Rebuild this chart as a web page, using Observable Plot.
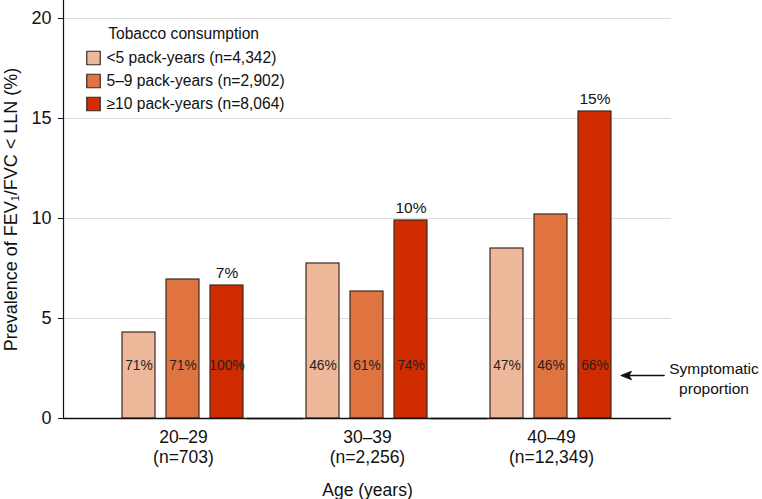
<!DOCTYPE html>
<html>
<head>
<meta charset="utf-8">
<script src="https://cdn.jsdelivr.net/npm/d3@7"></script>
<script src="https://cdn.jsdelivr.net/npm/@observablehq/plot@0.6"></script>
<style>
  body { margin: 0; background: #fff; }
  #chart svg { display: block; }
</style>
</head>
<body>
<div id="chart"></div>
<script>
// ---- data ----
const ageGroups = ["20–29", "30–39", "40–49"];
const ageGroupN = ["703", "2,256", "12,349"];
const tobacco = ["<5 pack-years", "5–9 pack-years", "≥10 pack-years"];
const tobaccoN = ["4,342", "2,902", "8,064"];
// prevalence of FEV1/FVC < LLN (%), by age group
const prevLow = [4.3, 7.75, 8.5];
const prevMid = [6.95, 6.35, 10.2];
const prevHigh = [6.65, 9.9, 15.35];
// symptomatic proportion (%), by age group
const sympLow = [71, 46, 47];
const sympMid = [71, 61, 46];
const sympHigh = [100, 74, 66];
// rounded labels above the ≥10 pack-years bars
const highLabels = ["7%", "10%", "15%"];
const yTicks = [0, 5, 10, 15, 20];
const gridTicks = [5, 10, 15, 20];
const colors = ["#EEB99B", "#E07440", "#D12C00"];
const annotationText = "Symptomatic\nproportion";
const annotationY = 2.15;

const prevBySeries = [prevLow, prevMid, prevHigh];
const sympBySeries = [sympLow, sympMid, sympHigh];
const table = [];
tobacco.forEach((s, si) => ageGroups.forEach((g, gi) => {
  table.push({group: g, series: s, value: prevBySeries[si][gi], symp: sympBySeries[si][gi]});
}));
const highTable = ageGroups.map((g, gi) => ({group: g, series: tobacco[2], value: prevHigh[gi], label: highLabels[gi]}));
const legendTable = tobacco.map((s, i) => ({series: s, label: `${s} (n=${tobaccoN[i]})`}));

const font = "'Liberation Sans', Arial, Helvetica, sans-serif";
const ink = "#111";
const barStroke = "#3a2824";
const outer = 58; // fx outer padding in px (paddingOuter * step)

const arrowShape = {
  draw(context, l) {
    context.moveTo(0, 0);
    context.lineTo(0, -l + 6);
    context.moveTo(0, -l);
    context.lineTo(-4, -l + 10);
    context.lineTo(0, -l + 7.5);
    context.lineTo(4, -l + 10);
    context.closePath();
  }
};

const chart = Plot.plot({
  width: 762,
  height: 499,
  marginLeft: 62,
  marginRight: 89,
  marginTop: 0,
  marginBottom: 81,
  style: {fontFamily: font, color: ink, background: "#fff"},
  fx: {domain: ageGroups, paddingInner: 0.324, paddingOuter: 0.3135},
  x: {domain: tobacco, paddingInner: 0.24, paddingOuter: 0, axis: null},
  y: {domain: [0, 20.9], axis: null},
  color: {domain: tobacco, range: colors},
  marks: [
    Plot.ruleY(gridTicks, {y: d => d, stroke: "#dcdcdc", strokeWidth: 1, insetLeft: -outer, insetRight: -outer}),
    Plot.barY(table, {fx: "group", x: "series", y: "value", fill: "series", stroke: barStroke, strokeWidth: 1.2}),
    Plot.text(table, {fx: "group", x: "series", text: d => d.symp + "%", frameAnchor: "bottom", dy: -49, fontSize: 13.8, fill: "#222"}),
    Plot.text(highTable, {fx: "group", x: "series", y: "value", text: "label", dy: -12, fontSize: 15.5, fill: ink}),
    Plot.ruleY([0], {stroke: ink, strokeWidth: 1.5, insetLeft: -outer, insetRight: -outer}),
    Plot.axisY({ticks: yTicks, dx: -outer, tickSize: 5, tickPadding: 7, fontSize: 18, stroke: ink, fill: ink,
      label: "Prevalence of FEV₁/FVC < LLN (%)", labelAnchor: "center", labelOffset: 117, labelArrow: false}),
    Plot.frame({anchor: "left", facetAnchor: "left", dx: -outer, stroke: ink, strokeWidth: 1.2}),
    Plot.axisFx({anchor: "bottom", tickSize: 0, tickPadding: 10, fontSize: 17.5, lineHeight: 1.15, fill: ink,
      tickFormat: (g) => `${g}\n(n=${ageGroupN[ageGroups.indexOf(g)]})`,
      label: "Age (years)", labelAnchor: "center", labelOffset: 77, labelArrow: false}),
    // legend
    Plot.text(["Tobacco consumption"], {facet: "super", frameAnchor: "top-left", dx: -13.3, dy: 33, text: d => d, textAnchor: "start", lineAnchor: "middle", fontSize: 15.6, fill: ink}),
    ...legendTable.map((d, i) => Plot.dot([d], {facet: "super", frameAnchor: "top-left", dx: -28, dy: 57.5 + 23 * i, symbol: "square", r: 7.6, fill: "series", stroke: barStroke, strokeWidth: 1.2})),
    ...legendTable.map((d, i) => Plot.text([d], {facet: "super", frameAnchor: "top-left", dx: -15, dy: 57.5 + 23 * i, text: "label", textAnchor: "start", lineAnchor: "middle", fontSize: 15.6, fill: ink})),
    // annotation
    Plot.text([annotationText], {facet: "super", frameAnchor: "bottom-right", dx: 100.5, dy: -41, text: d => d, textAnchor: "middle", lineAnchor: "middle", fontSize: 15.5, lineHeight: 1.3, fill: ink}),
    Plot.vector([{group: ageGroups[2], y: annotationY}], {fx: "group", y: "y", frameAnchor: "right", dx: 50.7, length: 43, rotate: -90, anchor: "start", shape: arrowShape, stroke: ink, fill: ink, strokeWidth: 1.3})
  ]
});
document.getElementById("chart").appendChild(chart);
</script>
</body>
</html>
